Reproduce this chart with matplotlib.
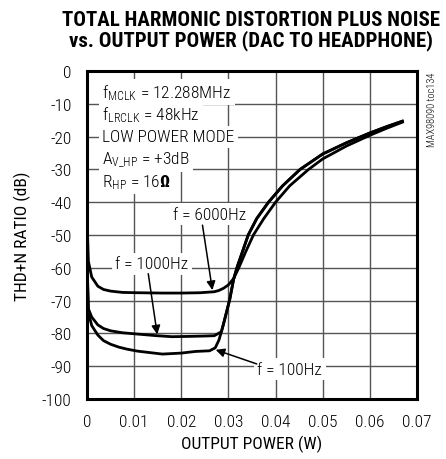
import matplotlib
matplotlib.use('Agg')
from matplotlib import pyplot as plt

FONT = 'Roboto Condensed'
plt.rcParams['font.family'] = [FONT, 'DejaVu Sans']
plt.rcParams['font.weight'] = 'light'
plt.rcParams['axes.unicode_minus'] = False
plt.rcParams['mathtext.fontset'] = 'custom'
plt.rcParams['mathtext.rm'] = FONT + ':light'
plt.rcParams['mathtext.it'] = FONT + ':light'
plt.rcParams['mathtext.bf'] = FONT + ':bold'
plt.rcParams['mathtext.default'] = 'regular'

# THD+N vs output power, one trace per test frequency
p_6000 = [0.0001, 0.0003, 0.001, 0.0023, 0.0035, 0.005, 0.0075, 0.0107, 0.016, 0.020,
          0.024, 0.027, 0.028, 0.029, 0.030, 0.0311, 0.0322, 0.0337, 0.0353, 0.0375,
          0.040, 0.043, 0.047, 0.050, 0.055, 0.060, 0.0635, 0.0669]
thd_6000 = [-49, -58, -62.8, -65.6, -66.6, -67.1, -67.5, -67.6, -67.7, -67.7,
            -67.6, -67.3, -66.9, -66.2, -65.2, -63.3, -60, -55, -50, -45,
            -40, -35, -30, -26.8, -22.9, -19.6, -17.5, -15.6]

p_1000 = [0.0001, 0.0003, 0.001, 0.0023, 0.0035, 0.005, 0.0075, 0.0107, 0.0148, 0.018,
          0.022, 0.025, 0.027, 0.0285, 0.029, 0.0297, 0.0303, 0.0311, 0.0318, 0.033,
          0.0342, 0.036, 0.0385, 0.0415, 0.0452, 0.050, 0.055, 0.060, 0.0635, 0.0669]
thd_1000 = [-62, -72.5, -75, -77.4, -78.5, -79.2, -79.8, -80.2, -80.7, -81.0,
            -80.9, -80.8, -80.7, -79.5, -77, -73, -69.5, -63.5, -60, -55,
            -50, -45, -40, -35, -30, -25.3, -21.9, -18.9, -17.0, -15.3]

p_100 = [0.0001, 0.0003, 0.001, 0.0023, 0.0035, 0.005, 0.0068, 0.0085, 0.0107, 0.016,
         0.020, 0.023, 0.026, 0.0272, 0.028, 0.0287, 0.0295, 0.0303, 0.0311, 0.0318,
         0.033, 0.0342, 0.036, 0.0385, 0.0415, 0.0452, 0.050, 0.055, 0.060, 0.0635,
         0.0669]
thd_100 = [-64, -73.5, -77.6, -80.5, -82.2, -83.3, -84.2, -84.8, -85.4, -86.3,
           -86.0, -85.5, -85.3, -84.4, -82, -78.5, -74, -69.5, -63.5, -60,
           -55, -50, -45, -40, -35, -30, -25.3, -21.9, -18.9, -17.0,
           -15.3]

x_ticks = [0, 0.01, 0.02, 0.03, 0.04, 0.05, 0.06, 0.07]
x_labels = ['0', '0.01', '0.02', '0.03', '0.04', '0.05', '0.06', '0.07']
y_ticks = list(range(-100, 1, 10))

conditions = [r'$f_{MCLK}$ = 12.288MHz',
              r'$f_{LRCLK}$ = 48kHz',
              'LOW POWER MODE',
              r'$A_{V\_HP}$ = +3dB',
              r'$R_{HP}$ = 16$\mathbf{\Omega}$']

fig = plt.figure(figsize=(4.46, 4.60), dpi=100)
ax = fig.add_axes([0.195, 0.1304, 0.74, 0.7131])

for p, thd in [(p_6000, thd_6000), (p_1000, thd_1000), (p_100, thd_100)]:
    ax.plot(p, thd, color='black', lw=2.0, zorder=3, solid_joinstyle='round')

ax.set_xlim(0, 0.07)
ax.set_ylim(-100, 0)
ax.set_xticks(x_ticks)
ax.set_xticklabels(x_labels)
ax.set_yticks(y_ticks)
ax.grid(True, color='#555555', lw=1.0)
ax.tick_params(length=0, labelsize=12.5)
ax.tick_params(axis='x', pad=11)
ax.tick_params(axis='y', pad=11)
for s in ax.spines.values():
    s.set_linewidth(2.2)
    s.set_zorder(5)

ax.set_xlabel('OUTPUT POWER (W)', fontsize=12.5, labelpad=4)
ax.set_ylabel('THD+N RATIO (dB)', fontsize=12.5, labelpad=8)

fig.text(0.563, 0.933, 'TOTAL HARMONIC DISTORTION PLUS NOISE\nvs. OUTPUT POWER (DAC TO HEADPHONE)',
         ha='center', va='center', fontsize=15, fontweight='bold', linespacing=1.05)
fig.text(0.968, 0.761, 'MAX98090 toc134', rotation=90, ha='center', va='center', fontsize=7.5)

# test conditions, each line masking the grid behind it
box = dict(facecolor='white', edgecolor='none', pad=2.5)
for i, line in enumerate(conditions):
    ax.text(0.0032, -6.4 - 6.8 * i, line, fontsize=12.5, ha='left', va='center',
            bbox=box, zorder=4)

arrow = dict(arrowstyle='-|>', color='black', lw=1.1, mutation_scale=13,
             shrinkA=0, shrinkB=0)
ax.text(0.0261, -43.6, 'f = 6000Hz', fontsize=12.5, ha='center', va='center', bbox=box, zorder=4)
ax.annotate('', xy=(0.0266, -66.8), xytext=(0.0245, -47.0), arrowprops=arrow, zorder=4)

ax.text(0.0138, -58.8, 'f = 1000Hz', fontsize=12.5, ha='center', va='center', bbox=box, zorder=4)
ax.annotate('', xy=(0.0149, -80.3), xytext=(0.0130, -61.8), arrowprops=arrow, zorder=4)

ax.text(0.0430, -90.9, 'f = 100Hz', fontsize=12.5, ha='center', va='center', bbox=box, zorder=4)
ax.annotate('', xy=(0.0273, -85.0), xytext=(0.0360, -89.3), arrowprops=arrow, zorder=4)

fig.savefig('out.png', dpi=100)
